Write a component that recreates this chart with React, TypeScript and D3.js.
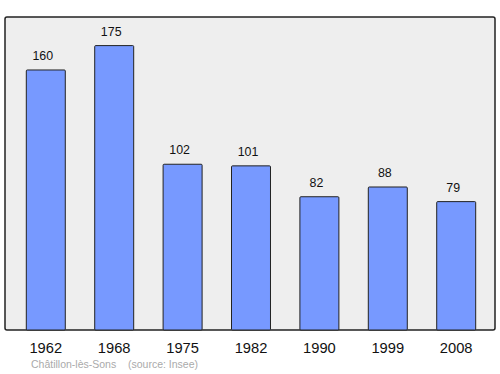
import React from "react";
import * as d3 from "d3";

const years = ["1962", "1968", "1975", "1982", "1990", "1999", "2008"];
const population = [160, 175, 102, 101, 82, 88, 79];
const commune = "Châtillon-lès-Sons";
const source = "(source: Insee)";

export default function App() {
  const W = 500, H = 374;
  const left = 5, right = 495, top = 17, bottom = 330;
  const x = d3.scaleBand<string>().domain(years).range([11.6, 490.4]).paddingInner(0.43).paddingOuter(0.215);
  const y = d3.scaleLinear().domain([0, 192.6]).range([bottom, top]);
  return (
    <svg width={W} height={H} style={{ position: "absolute", left: 0, top: 0, fontFamily: "'Liberation Sans', Arial, sans-serif" }}>
      <rect x={left} y={top} width={right - left} height={bottom - top} rx={2} fill="#eeeeee" stroke="#222" strokeWidth={1.5} />
      {years.map((yr, i) => {
        const bx = x(yr)!;
        const bw = x.bandwidth();
        const v = population[i];
        return (
          <g key={yr}>
            <rect x={bx} y={y(v)} width={bw} height={bottom - y(v)} rx={1} fill="#7799ff" stroke="#222" strokeWidth={1} />
            <text x={bx + bw / 2 - 3} y={y(v) - 10} textAnchor="middle" fontSize={12.4} fill="#111">{v}</text>
            <text x={bx + bw / 2} y={352.5} textAnchor="middle" fontSize={14.7} fill="#111">{yr}</text>
          </g>
        );
      })}
      <text x={31} y={367.5} fontSize={10.5} fill="#aaaaaa">{commune}</text>
      <text x={128} y={367.5} fontSize={10.5} fill="#aaaaaa">{source}</text>
    </svg>
  );
}
